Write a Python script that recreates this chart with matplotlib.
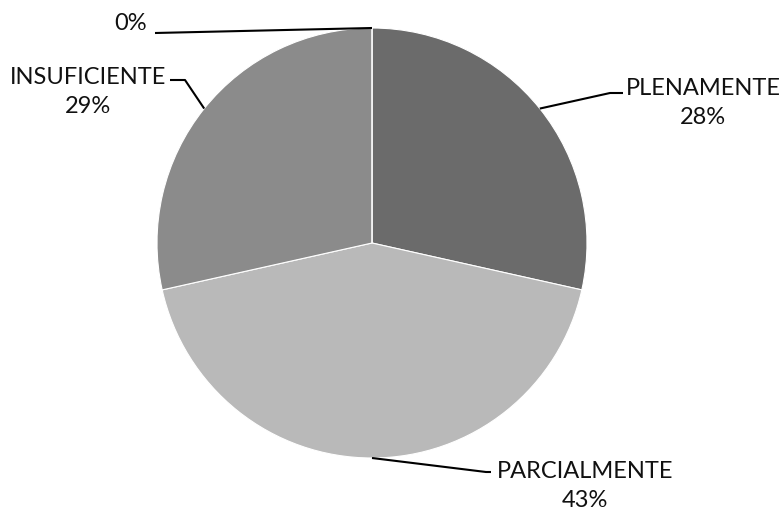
import numpy as np
import matplotlib.pyplot as plt

# data
categories = ["PLENAMENTE", "PARCIALMENTE", "INSUFICIENTE", ""]
shares = [28.5, 43.0, 28.5, 0.0]
pct_labels = ["28%", "43%", "29%", "0%"]
colors = ["#6b6b6b", "#b9b9b9", "#8b8b8b", "#a0a0a0"]

plt.rcParams['font.family'] = ['Lato', 'DejaVu Sans']

fig = plt.figure(figsize=(7.83, 5.13), dpi=100)
ax = fig.add_axes([0, 0, 1, 1])

R = 215.0  # pie radius in pixels
cx, cy = 372, 243


def px(x, y):
    # pixel coords -> data coords
    return (x - cx) / R, (cy - y) / R


wedges, _ = ax.pie(shares, colors=colors, startangle=90, counterclock=False,
                   radius=1, wedgeprops=dict(edgecolor='white', linewidth=0.8))

ax.set_xlim(-cx / R, (783 - cx) / R)
ax.set_ylim(-(513 - cy) / R, cy / R)
ax.set_aspect('auto')
ax.axis('off')

# label layout: elbow, end of leader line, text centre (pixels)
layout = [
    ((610, 93), (623, 93), (703, 103)),
    ((486, 472), (491, 472), (585, 486)),
    ((185, 80), (170, 80), (88, 92)),
    (None, (155, 33), (131, 23)),
]

for w, cat, pct, (elbow, end, txt) in zip(wedges, categories, pct_labels, layout):
    ang = np.deg2rad((w.theta1 + w.theta2) / 2)
    start = (np.cos(ang), np.sin(ang))
    pts = [start]
    if elbow is not None:
        pts.append(px(*elbow))
    pts.append(px(*end))
    xs, ys = zip(*pts)
    ax.plot(xs, ys, color='black', linewidth=1.5, solid_capstyle='butt')
    label = cat + "\n" + pct if cat else pct
    tx, ty = px(*txt)
    ax.text(tx, ty, label, ha='center', va='center', fontsize=17,
            linespacing=1.42, color='#111111')

fig.savefig('out.png', dpi=100)
